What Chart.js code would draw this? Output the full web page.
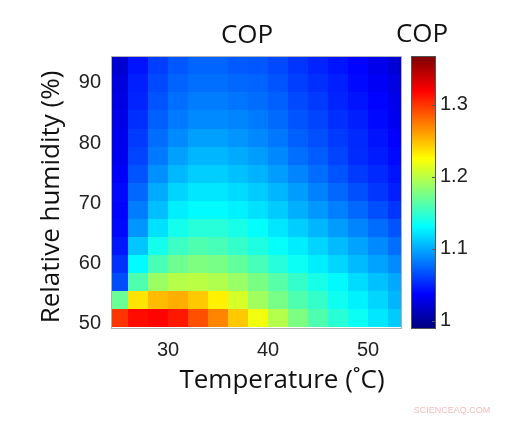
<!DOCTYPE html>
<html>
<head>
<meta charset="utf-8">
<script src="https://cdn.jsdelivr.net/npm/chart.js@4/dist/chart.umd.min.js"></script>
<style>
  html, body { margin: 0; padding: 0; background: #fff; }
  #wrap { position: relative; width: 515px; height: 426px; }
  #wrap canvas { position: absolute; left: 0; top: 0; }
</style>
</head>
<body>
<div id="wrap">
  <canvas id="heat" width="515" height="426"></canvas>
  <canvas id="bar" width="515" height="426"></canvas>
</div>
<script>
// Cell centres
const temperatures = [25, 27, 29, 31, 33, 35, 37, 39, 41, 43, 45, 47, 49, 51, 53];
const humidities = [51, 54, 57, 60, 63, 66, 69, 72, 75, 78, 81, 84, 87, 90, 93];

// COP, one row per humidity (bottom to top), one value per temperature
const copGrid = [
  [1.30, 1.315, 1.318, 1.31, 1.29, 1.27, 1.245, 1.22, 1.197, 1.177, 1.16, 1.146, 1.135, 1.122, 1.112],
  [1.17, 1.235, 1.25, 1.255, 1.245, 1.23, 1.21, 1.19, 1.175, 1.16, 1.15, 1.136, 1.126, 1.116, 1.104],
  [1.065, 1.16, 1.188, 1.198, 1.2, 1.196, 1.187, 1.176, 1.163, 1.15, 1.139, 1.129, 1.118, 1.108, 1.099],
  [1.055, 1.13, 1.158, 1.172, 1.178, 1.175, 1.167, 1.157, 1.145, 1.135, 1.125, 1.116, 1.106, 1.097, 1.088],
  [1.045, 1.11, 1.138, 1.153, 1.16, 1.157, 1.15, 1.142, 1.133, 1.124, 1.115, 1.106, 1.097, 1.088, 1.078],
  [1.04, 1.092, 1.12, 1.138, 1.145, 1.145, 1.14, 1.132, 1.122, 1.113, 1.104, 1.095, 1.086, 1.077, 1.068],
  [1.038, 1.083, 1.107, 1.125, 1.13, 1.13, 1.126, 1.12, 1.112, 1.102, 1.093, 1.084, 1.075, 1.066, 1.057],
  [1.04, 1.075, 1.10, 1.115, 1.122, 1.122, 1.118, 1.112, 1.104, 1.095, 1.085, 1.075, 1.066, 1.057, 1.048],
  [1.035, 1.068, 1.09, 1.105, 1.113, 1.113, 1.108, 1.103, 1.095, 1.086, 1.077, 1.068, 1.058, 1.052, 1.044],
  [1.032, 1.062, 1.082, 1.096, 1.104, 1.104, 1.10, 1.095, 1.087, 1.078, 1.071, 1.062, 1.053, 1.047, 1.04],
  [1.03, 1.058, 1.077, 1.088, 1.096, 1.096, 1.092, 1.087, 1.081, 1.072, 1.066, 1.058, 1.052, 1.044, 1.036],
  [1.028, 1.054, 1.072, 1.082, 1.088, 1.088, 1.086, 1.082, 1.076, 1.068, 1.062, 1.054, 1.048, 1.04, 1.032],
  [1.026, 1.05, 1.068, 1.078, 1.083, 1.083, 1.08, 1.077, 1.072, 1.064, 1.058, 1.05, 1.044, 1.038, 1.03],
  [1.024, 1.048, 1.064, 1.073, 1.078, 1.078, 1.075, 1.073, 1.068, 1.06, 1.054, 1.048, 1.04, 1.034, 1.026],
  [1.02, 1.044, 1.06, 1.069, 1.074, 1.074, 1.07, 1.069, 1.064, 1.056, 1.05, 1.044, 1.038, 1.03, 1.022]
];

// Axis ticks
const xTicks = [30, 40, 50];
const yTicks = [50, 60, 70, 80, 90];
const colorTicks = [1, 1.1, 1.2, 1.3];

const COLOR_MIN = 0.99;
const COLOR_MAX = 1.366;

const tickFont = { family: 'Liberation Sans', size: 20 };
const titleFamily = 'Open Sans';

// jet colour map
function jet(v) {
  const t = Math.min(1, Math.max(0, (v - COLOR_MIN) / (COLOR_MAX - COLOR_MIN)));
  const f = k => Math.round(255 * Math.min(1, Math.max(0, 1.5 - Math.abs(4 * t - k))));
  return 'rgb(' + f(3) + ',' + f(2) + ',' + f(1) + ')';
}

// cell edges halfway between neighbouring centres
function edges(centres) {
  return centres.map((c, i) => {
    const prev = i > 0 ? centres[i - 1] : c - (centres[1] - centres[0]);
    const next = i < centres.length - 1 ? centres[i + 1] : c + (c - centres[i - 1]);
    return [(prev + c) / 2, (c + next) / 2];
  });
}

const tEdges = edges(temperatures);
const hEdges = edges(humidities);

const cells = [];
humidities.forEach((h, j) => {
  temperatures.forEach((t, i) => {
    cells.push({
      x: t, y: h, v: copGrid[j][i],
      x0: tEdges[i][0], x1: tEdges[i][1],
      y0: hEdges[j][0], y1: hEdges[j][1]
    });
  });
});

const heatmapPlugin = {
  id: 'heatmap',
  beforeDatasetsDraw(chart) {
    const { ctx, chartArea: a, scales: { x, y } } = chart;
    ctx.save();
    ctx.beginPath();
    ctx.rect(a.left, a.top, a.width, a.height);
    ctx.clip();
    chart.data.datasets[0].data.forEach(c => {
      const px0 = Math.floor(x.getPixelForValue(c.x0));
      const px1 = Math.ceil(x.getPixelForValue(c.x1));
      const py0 = Math.ceil(y.getPixelForValue(c.y0));
      const py1 = Math.floor(y.getPixelForValue(c.y1));
      ctx.fillStyle = jet(c.v);
      ctx.fillRect(px0, py1, px1 - px0, py0 - py1);
    });
    ctx.restore();
    ctx.save();
    ctx.strokeStyle = '#b0b0b0';
    ctx.lineWidth = 1;
    ctx.strokeRect(a.left - 0.5, a.top - 0.5, a.width + 1, a.height + 1);
    ctx.restore();
  },
  afterDraw(chart) {
    const ctx = chart.ctx;
    ctx.save();
    ctx.fillStyle = '#111';
    ctx.textAlign = 'center';
    ctx.textBaseline = 'middle';
    ctx.font = '26px "' + titleFamily + '"';
    ctx.fillText('COP', 247, 36);
    ctx.fillText('COP', 422, 35);
    ctx.fillText('Temperature (˚C)', 282, 381);
    ctx.translate(52, 197);
    ctx.rotate(-Math.PI / 2);
    ctx.fillText('Relative humidity (%)', 0, 0);
    ctx.restore();
    ctx.save();
    ctx.fillStyle = 'rgba(235, 160, 160, 0.7)';
    ctx.font = '9px "Liberation Sans"';
    ctx.textAlign = 'center';
    ctx.textBaseline = 'middle';
    ctx.fillText('SCIENCEAQ.COM', 452, 411);
    ctx.restore();
  }
};

new Chart(document.getElementById('heat'), {
  type: 'scatter',
  data: {
    datasets: [{ data: cells, pointRadius: 0, pointHoverRadius: 0 }]
  },
  options: {
    responsive: false,
    animation: false,
    events: [],
    layout: { padding: { left: 0, top: 57, right: 114, bottom: 0 } },
    plugins: { legend: { display: false }, tooltip: { enabled: false } },
    scales: {
      x: {
        type: 'linear',
        min: 24.4,
        max: 53.3,
        grid: { display: false, drawTicks: false },
        border: { display: false },
        ticks: { font: tickFont, color: '#222', padding: 10 },
        afterBuildTicks: s => { s.ticks = xTicks.map(v => ({ value: v })); },
        afterFit: s => { s.height = 98; }
      },
      y: {
        type: 'linear',
        min: 49.3,
        max: 94.3,
        grid: { display: false, drawTicks: false },
        border: { display: false },
        ticks: { font: tickFont, color: '#222', padding: 11 },
        afterBuildTicks: s => { s.ticks = yTicks.map(v => ({ value: v })); },
        afterFit: s => { s.width = 112; }
      }
    }
  },
  plugins: [heatmapPlugin]
});

const colorbarPlugin = {
  id: 'colorbar',
  beforeDatasetsDraw(chart) {
    const { ctx, chartArea: a, scales: { y } } = chart;
    const grad = ctx.createLinearGradient(0, y.getPixelForValue(COLOR_MIN), 0, y.getPixelForValue(COLOR_MAX));
    const steps = 64;
    for (let k = 0; k <= steps; k++) {
      grad.addColorStop(k / steps, jet(COLOR_MIN + (COLOR_MAX - COLOR_MIN) * k / steps));
    }
    ctx.save();
    ctx.fillStyle = grad;
    ctx.fillRect(a.left, a.top, a.width, a.height);
    ctx.strokeStyle = '#555';
    ctx.lineWidth = 1;
    ctx.strokeRect(a.left - 0.5, a.top - 0.5, a.width + 1, a.height + 1);
    ctx.beginPath();
    colorTicks.forEach(v => {
      const py = Math.round(y.getPixelForValue(v)) + 0.5;
      ctx.moveTo(a.right - 3, py);
      ctx.lineTo(a.right, py);
    });
    ctx.stroke();
    ctx.restore();
  }
};

new Chart(document.getElementById('bar'), {
  type: 'scatter',
  data: { datasets: [{ data: [] }] },
  options: {
    responsive: false,
    animation: false,
    events: [],
    layout: { padding: { left: 412, top: 57, right: 0, bottom: 98 } },
    plugins: { legend: { display: false }, tooltip: { enabled: false } },
    scales: {
      x: { type: 'linear', display: false, min: 0, max: 1 },
      y: {
        type: 'linear',
        position: 'right',
        min: COLOR_MIN,
        max: COLOR_MAX,
        grid: { display: false, drawTicks: false },
        border: { display: false },
        ticks: { font: tickFont, color: '#222', padding: 5, callback: v => String(v) },
        afterBuildTicks: s => { s.ticks = colorTicks.map(v => ({ value: v })); },
        afterFit: s => { s.width = 80; }
      }
    }
  },
  plugins: [colorbarPlugin]
});
</script>
</body>
</html>
